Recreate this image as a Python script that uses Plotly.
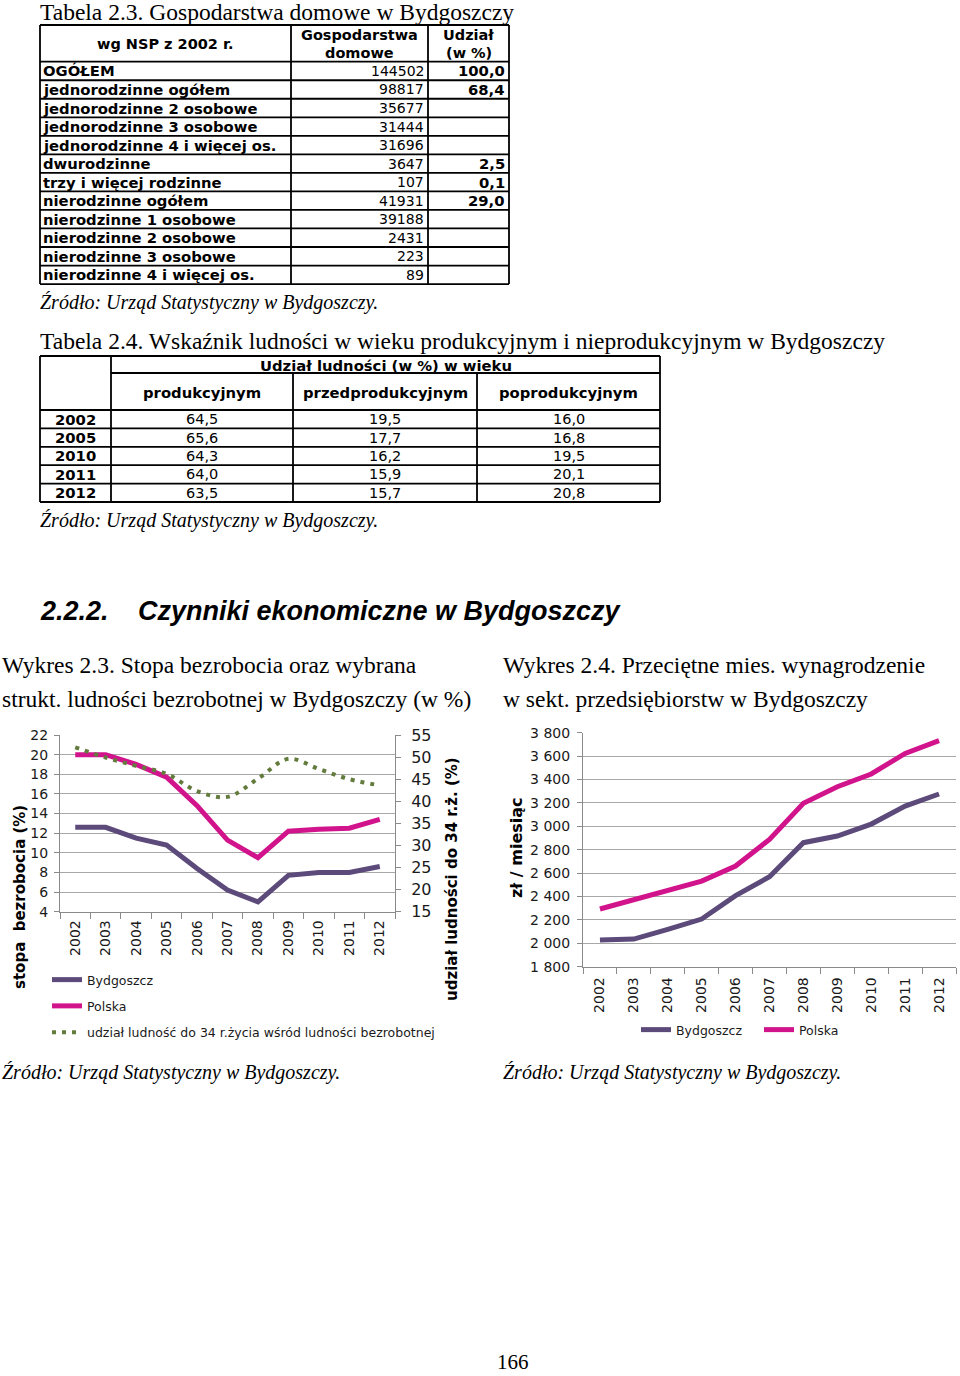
import plotly.graph_objects as go

W, H = 960, 1376

# ---------------- data ----------------
t23_labels = ["OGÓŁEM", "jednorodzinne ogółem", "jednorodzinne 2 osobowe", "jednorodzinne 3 osobowe",
              "jednorodzinne 4 i więcej os.", "dwurodzinne", "trzy i więcej rodzinne", "nierodzinne ogółem",
              "nierodzinne 1 osobowe", "nierodzinne 2 osobowe", "nierodzinne 3 osobowe", "nierodzinne 4 i więcej os."]
t23_households = [144502, 98817, 35677, 31444, 31696, 3647, 107, 41931, 39188, 2431, 223, 89]
t23_share = ["100,0", "68,4", "", "", "", "2,5", "0,1", "29,0", "", "", "", ""]

t24_years = ["2002", "2005", "2010", "2011", "2012"]
t24_columns = ["produkcyjnym", "przedprodukcyjnym", "poprodukcyjnym"]
t24_prod = [64.5, 65.6, 64.3, 64.0, 63.5]
t24_pre = [19.5, 17.7, 16.2, 15.9, 15.7]
t24_post = [16.0, 16.8, 19.5, 20.1, 20.8]

years = ["2002", "2003", "2004", "2005", "2006", "2007", "2008", "2009", "2010", "2011", "2012"]
unemp_bydgoszcz = [12.6, 12.6, 11.5, 10.8, 8.4, 6.2, 5.0, 7.7, 8.0, 8.0, 8.6]
unemp_polska = [20.0, 20.0, 19.0, 17.7, 14.8, 11.3, 9.5, 12.2, 12.4, 12.5, 13.4]
young_share = [52.2, 49.9, 48.0, 46.2, 42.3, 41.0, 45.1, 49.6, 47.3, 45.0, 43.6]

wage_bydgoszcz = [2028, 2036, 2119, 2207, 2407, 2569, 2860, 2917, 3019, 3173, 3276]
wage_polska = [2293, 2370, 2455, 2532, 2660, 2888, 3196, 3338, 3447, 3623, 3732]

# ---------------- styles ----------------
SERIF = "Liberation Serif"
SANS = "DejaVu Sans"
ARIAL = "Liberation Sans"
C_BYD = "#5c4a7a"
C_POL = "#d2148c"
C_YOUNG = "#637c3e"
GRID = "#a8a8a8"
AXIS = "#8a8a8a"


def px(x):
    return x / W


def py(y):
    return 1 - y / H


annotations = []
shapes = []


def txt(x, y, s, size, family=SANS, xanchor="left", weight="normal", style="normal", angle=0, color="black"):
    annotations.append(dict(x=px(x), y=py(y), xref="paper", yref="paper", text=s, showarrow=False,
                            xanchor=xanchor, yanchor="middle", textangle=angle,
                            font=dict(size=size, family=family, color=color, weight=weight, style=style)))


def hline(x0, x1, y, w=1.8):
    shapes.append(dict(type="line", xref="paper", yref="paper", x0=px(x0), x1=px(x1), y0=py(y), y1=py(y),
                       line=dict(color="black", width=w)))


def vline(x, y0, y1, w=1.8):
    shapes.append(dict(type="line", xref="paper", yref="paper", x0=px(x), x1=px(x), y0=py(y0), y1=py(y1),
                       line=dict(color="black", width=w)))


def fmt(v):
    return f"{v:.1f}".replace(".", ",")


# ---------------- Table 2.3 ----------------
txt(38, 12, "Tabela 2.3. Gospodarstwa domowe w Bydgoszczy", 23.5, SERIF)
c23 = [40, 291, 428, 509]
top23, head23, rh23 = 25, 61.7, 18.53
bottom23 = head23 + rh23 * len(t23_labels)
hline(c23[0], c23[-1], top23)
hline(c23[0], c23[-1], head23)
for i in range(len(t23_labels)):
    hline(c23[0], c23[-1], head23 + rh23 * (i + 1))
for x in c23:
    vline(x, top23, bottom23)
txt((c23[0] + c23[1]) / 2, 44, "wg NSP z 2002 r.", 14.5, xanchor="center", weight="bold")
txt((c23[1] + c23[2]) / 2, 35, "Gospodarstwa", 14.5, xanchor="center", weight="bold")
txt((c23[1] + c23[2]) / 2, 53, "domowe", 14.5, xanchor="center", weight="bold")
txt((c23[2] + c23[3]) / 2, 35, "Udział", 14.5, xanchor="center", weight="bold")
txt((c23[2] + c23[3]) / 2, 53, "(w %)", 14.5, xanchor="center", weight="bold")
for i, (lab, n, s) in enumerate(zip(t23_labels, t23_households, t23_share)):
    yc = head23 + rh23 * (i + 0.5)
    txt(c23[0] + 1, yc, lab, 14.8, weight="bold")
    txt(c23[2] - 2, yc, str(n), 14, xanchor="right")
    if s:
        txt(c23[3] - 2, yc, s, 14.8, xanchor="right", weight="bold")
txt(38, 302, "Źródło: Urząd Statystyczny w Bydgoszczy.", 20, SERIF, style="italic")

# ---------------- Table 2.4 ----------------
txt(38, 341, "Tabela 2.4. Wskaźnik ludności w wieku produkcyjnym i nieprodukcyjnym w Bydgoszczy", 23.5, SERIF)
c24 = [40, 111, 293, 477, 660]
top24, mid24, head24, rh24 = 356, 373, 410, 18.4
bottom24 = head24 + rh24 * len(t24_years)
hline(c24[0], c24[-1], top24)
hline(c24[1], c24[-1], mid24)
hline(c24[0], c24[-1], head24)
for i in range(len(t24_years)):
    hline(c24[0], c24[-1], head24 + rh24 * (i + 1))
vline(c24[0], top24, bottom24)
vline(c24[1], top24, bottom24)
vline(c24[2], mid24, bottom24)
vline(c24[3], mid24, bottom24)
vline(c24[4], top24, bottom24)
txt((c24[1] + c24[4]) / 2, 365, "Udział ludności (w %) w wieku", 14.8, xanchor="center", weight="bold")
for j, name in enumerate(t24_columns):
    txt((c24[j + 1] + c24[j + 2]) / 2, 392, name, 14.8, xanchor="center", weight="bold")
for i, yr in enumerate(t24_years):
    yc = head24 + rh24 * (i + 0.5)
    txt((c24[0] + c24[1]) / 2, yc, yr, 14.8, xanchor="center", weight="bold")
    for j, col in enumerate([t24_prod, t24_pre, t24_post]):
        txt((c24[j + 1] + c24[j + 2]) / 2, yc, fmt(col[i]), 14.5, xanchor="center")
txt(38, 520, "Źródło: Urząd Statystyczny w Bydgoszczy.", 20, SERIF, style="italic")

# ---------------- Section heading and chart titles ----------------
txt(38, 611, "2.2.2.", 27, ARIAL, weight="bold", style="italic")
txt(136, 611, "Czynniki ekonomiczne w Bydgoszczy", 27, ARIAL, weight="bold", style="italic")
txt(0, 665, "Wykres 2.3. Stopa bezrobocia oraz wybrana", 23.5, SERIF)
txt(0, 699, "strukt. ludności bezrobotnej w Bydgoszczy (w %)", 23.5, SERIF)
txt(501, 665, "Wykres 2.4. Przeciętne mies. wynagrodzenie", 23.5, SERIF)
txt(501, 699, "w sekt. przedsiębiorstw w Bydgoszczy", 23.5, SERIF)
txt(0, 1072, "Źródło: Urząd Statystyczny w Bydgoszczy.", 20, SERIF, style="italic")
txt(501, 1072, "Źródło: Urząd Statystyczny w Bydgoszczy.", 20, SERIF, style="italic")
txt(513, 1362, "166", 21, SERIF, xanchor="center")

# axis titles
txt(20, 897, "stopa\u00a0 bezrobocia (%)", 15, weight="bold", angle=-90, xanchor="center")
txt(452, 879, "udział ludności do 34 r.ż. (%)", 15, weight="bold", angle=-90, xanchor="center")
txt(516, 848, "zł / miesiąc", 16, weight="bold", angle=-90, xanchor="center")

# ---------------- traces ----------------
fig = go.Figure()
fig.add_trace(go.Scatter(x=years, y=unemp_bydgoszcz, name="Bydgoszcz", mode="lines",
                         line=dict(color=C_BYD, width=5), xaxis="x", yaxis="y",
                         legend="legend", legendgroup="a"))
fig.add_trace(go.Scatter(x=years, y=unemp_polska, name="Polska", mode="lines",
                         line=dict(color=C_POL, width=5), xaxis="x", yaxis="y",
                         legend="legend", legendgroup="b"))
fig.add_trace(go.Scatter(x=years, y=young_share, name="udział ludność do 34 r.życia wśród ludności bezrobotnej",
                         mode="lines", line=dict(color=C_YOUNG, width=4, dash="4px,6px", shape="spline", smoothing=1),
                         xaxis="x", yaxis="y3", legend="legend", legendgroup="c"))
fig.add_trace(go.Scatter(x=years, y=wage_bydgoszcz, name="Bydgoszcz", mode="lines",
                         line=dict(color=C_BYD, width=5), xaxis="x2", yaxis="y2", legend="legend2"))
fig.add_trace(go.Scatter(x=years, y=wage_polska, name="Polska", mode="lines",
                         line=dict(color=C_POL, width=5), xaxis="x2", yaxis="y2", legend="legend2"))

tickfont = dict(family=SANS, size=14, color="#1a1a1a")
xcommon = dict(type="category", range=[-0.5, 10.5], showline=True, linecolor=AXIS, linewidth=1,
               ticks="outside", tickson="boundaries", ticklen=6, tickcolor=AXIS, tickangle=-90,
               showgrid=False, tickfont=tickfont, fixedrange=True, automargin=False)

fig.update_layout(
    width=W, height=H, margin=dict(l=0, r=0, t=0, b=0, pad=0, autoexpand=False),
    paper_bgcolor="white", plot_bgcolor="white", separators=", ",
    annotations=annotations, shapes=shapes,
    xaxis=dict(domain=[px(60), px(395)], anchor="y", ticklabelstandoff=2, **xcommon),
    yaxis=dict(domain=[py(911.7), py(735)], anchor="x", range=[4, 22], dtick=2, tick0=4,
               showgrid=True, gridcolor=GRID, gridwidth=1, showline=True, linecolor=AXIS,
               ticks="outside", ticklen=5, tickcolor=AXIS, tickfont=tickfont, ticklabelstandoff=3,
               zeroline=False, fixedrange=True, automargin=False),
    yaxis3=dict(overlaying="y", side="right", anchor="x", range=[15, 55], dtick=5, tick0=15,
                showgrid=False, showline=True, linecolor=AXIS, ticks="outside", ticklen=5, tickcolor=AXIS,
                tickfont=dict(family=SANS, size=16, color="#1a1a1a"), ticklabelstandoff=7,
                zeroline=False, fixedrange=True, automargin=False),
    xaxis2=dict(domain=[px(583), px(956)], anchor="y2", ticklabelstandoff=4, **xcommon),
    yaxis2=dict(domain=[py(966.7), py(732.7)], anchor="x2", range=[1800, 3800], dtick=200, tick0=1800,
                tickformat=",d", showgrid=True, gridcolor=GRID, gridwidth=1, showline=True, linecolor=AXIS,
                ticks="outside", ticklen=5, tickcolor=AXIS,
                tickfont=dict(family=SANS, size=14, color="#1a1a1a"), ticklabelstandoff=4,
                zeroline=False, fixedrange=True, automargin=False),
    legend=dict(x=px(47), y=py(965), xanchor="left", yanchor="top", orientation="v",
                traceorder="grouped", tracegroupgap=7, bgcolor="rgba(0,0,0,0)",
                font=dict(family=SANS, size=12.5, color="#1a1a1a")),
    legend2=dict(x=px(636), y=py(1030), xanchor="left", yanchor="middle", orientation="h",
                 entrywidth=78, entrywidthmode="pixels",
                 bgcolor="rgba(0,0,0,0)", font=dict(family=SANS, size=12.5, color="#1a1a1a")),
)

fig.write_html("out.html", config={"displayModeBar": False},
               post_script="document.body.style.margin='0px';")
